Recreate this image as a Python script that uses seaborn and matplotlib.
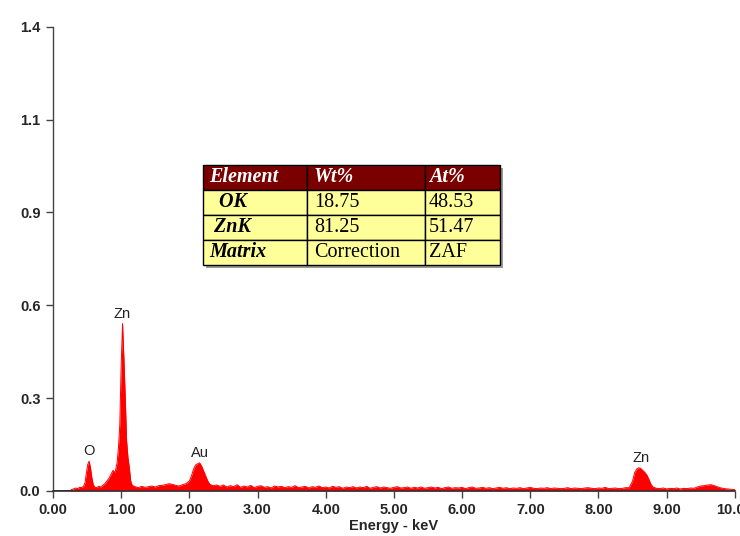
import numpy as np
import pandas as pd
import matplotlib.pyplot as plt
import seaborn as sns

# --- spectrum (energy keV, intensity) ---
low_energy = [0.00, 0.25, 0.27, 0.30, 0.33, 0.36, 0.39, 0.42, 0.45, 0.47, 0.49, 0.51, 0.53,
              0.55, 0.57, 0.59, 0.61, 0.64, 0.67, 0.70, 0.73, 0.76, 0.79, 0.82, 0.85, 0.88,
              0.91, 0.94, 0.96, 0.98, 1.00, 1.02, 1.04, 1.06, 1.08, 1.10, 1.12, 1.14, 1.16,
              1.19, 1.22, 1.25, 1.30, 1.35, 1.40, 1.45, 1.50, 1.55, 1.60, 1.65, 1.70, 1.75,
              1.80, 1.85, 1.90, 1.95, 2.00, 2.03, 2.06, 2.09, 2.12, 2.15, 2.18, 2.21, 2.24,
              2.27, 2.30, 2.35, 2.40]
low_counts = [0.000, 0.000, 0.004, 0.006, 0.009, 0.007, 0.011, 0.010, 0.015, 0.025, 0.055, 0.080, 0.090,
              0.070, 0.040, 0.020, 0.012, 0.010, 0.014, 0.012, 0.017, 0.022, 0.030, 0.038, 0.050, 0.062,
              0.055, 0.085, 0.130, 0.200, 0.380, 0.505, 0.400, 0.280, 0.150, 0.100, 0.070, 0.030, 0.018,
              0.014, 0.012, 0.010, 0.014, 0.011, 0.013, 0.015, 0.012, 0.016, 0.017, 0.019, 0.022, 0.020,
              0.017, 0.015, 0.019, 0.022, 0.030, 0.045, 0.065, 0.078, 0.082, 0.085, 0.075, 0.060, 0.045,
              0.030, 0.020, 0.016, 0.018]

# background 2.45 .. 8.40 keV, 0.05 keV channels
bg_counts = [0.014, 0.018, 0.012, 0.016, 0.013, 0.019, 0.011, 0.015, 0.012, 0.017,
             0.010, 0.014, 0.016, 0.011, 0.013, 0.009, 0.015, 0.012, 0.014, 0.010,
             0.013, 0.011, 0.016, 0.010, 0.012, 0.014, 0.009, 0.013, 0.011, 0.015,
             0.010, 0.012, 0.009, 0.014, 0.011, 0.013, 0.008, 0.012, 0.010, 0.013,
             0.009, 0.012, 0.010, 0.014, 0.008, 0.011, 0.013, 0.009, 0.012, 0.010,
             0.008, 0.011, 0.013, 0.009, 0.010, 0.012, 0.008, 0.011, 0.009, 0.012,
             0.008, 0.010, 0.012, 0.009, 0.011, 0.007, 0.010, 0.012, 0.008, 0.010,
             0.009, 0.011, 0.007, 0.010, 0.012, 0.008, 0.009, 0.011, 0.008, 0.010,
             0.007, 0.009, 0.011, 0.008, 0.010, 0.007, 0.009, 0.008, 0.010, 0.007,
             0.009, 0.011, 0.008, 0.007, 0.009, 0.008, 0.010, 0.007, 0.009, 0.008,
             0.007, 0.008, 0.010, 0.007, 0.009, 0.008, 0.007, 0.009, 0.010, 0.008,
             0.007, 0.009, 0.008, 0.011, 0.007, 0.008, 0.009, 0.007, 0.008, 0.010]
bg_energy = np.round(2.45 + 0.05 * np.arange(len(bg_counts)), 2)

high_energy = [8.45, 8.50, 8.53, 8.56, 8.59, 8.62, 8.65, 8.68, 8.71, 8.74, 8.77, 8.80, 8.85,
               8.90, 8.95, 9.00, 9.05, 9.10, 9.15, 9.20, 9.25, 9.30, 9.35, 9.40, 9.45, 9.50,
               9.55, 9.60, 9.65, 9.70, 9.75, 9.80, 9.85, 9.90, 9.95, 10.00]
high_counts = [0.010, 0.030, 0.055, 0.066, 0.070, 0.068, 0.062, 0.056, 0.048, 0.035, 0.020, 0.012, 0.008,
               0.007, 0.009, 0.006, 0.008, 0.007, 0.009, 0.006, 0.008, 0.007, 0.009, 0.008, 0.012, 0.015,
               0.016, 0.018, 0.019, 0.016, 0.012, 0.009, 0.007, 0.006, 0.005, 0.004]

# peak labels
peak_names = ["O", "Zn", "Au", "Zn"]
peak_pos = [0.53, 1.02, 2.15, 8.62]
peak_top = [0.090, 0.505, 0.085, 0.070]

# quantification table
table_cols = ["Element", "Wt%", "At%"]
table_rows = [["  OK", "18.75", "48.53"],
              [" ZnK", "81.25", "51.47"],
              ["Matrix", "Correction", "ZAF"]]

y_ticks = [0.0, 0.28, 0.56, 0.84, 1.12, 1.4]
y_labels = ["0.0", "0.3", "0.6", "0.9", "1.1", "1.4"]
x_ticks = [0, 1, 2, 3, 4, 5, 6, 7, 8, 9, 10]

spec = pd.DataFrame({
    "energy": np.concatenate([low_energy, bg_energy, high_energy]),
    "counts": np.concatenate([low_counts, bg_counts, high_counts]),
})

sns.set_style("ticks")
plt.rcParams["font.family"] = ["Liberation Sans", "DejaVu Sans"]

fig = plt.figure(figsize=(7.4, 5.36), dpi=100)
ax = fig.add_axes([0.0716, 0.084, 0.9214, 0.866])

ax.fill_between(spec["energy"], spec["counts"], color="#ff0000", lw=0)
sns.lineplot(data=spec, x="energy", y="counts", color="#ff0000", lw=0.7, ax=ax)
ax.plot([0, 0.27], [0, 0], color="black", lw=2)

for name, x, y in zip(peak_names, peak_pos, peak_top):
    ax.text(x, y + 0.008, name, ha="center", va="bottom", fontsize=10.5, color="#222222")

ax.set_xlim(0, 10)
ax.set_ylim(0, 1.4)
ax.set_xticks(x_ticks)
ax.set_xticklabels([f"{v:.2f}" for v in x_ticks], fontweight="bold", fontsize=10.5)
ax.set_yticks(y_ticks)
ax.set_yticklabels(y_labels, fontweight="bold", fontsize=10.5)
ax.set_xlabel("Energy - keV", fontweight="bold", fontsize=10.5, labelpad=1)
ax.set_ylabel("")
ax.tick_params(axis="both", length=5, width=1, color="#444444", pad=4)
sns.despine(ax=ax, top=True, right=True)
ax.spines["left"].set_color("#444444")
ax.spines["bottom"].set_color("#333333")
ax.spines["left"].set_linewidth(1)
ax.spines["bottom"].set_linewidth(1.2)

# table with shadow
ax.add_patch(plt.Rectangle((0.225, 0.480), 0.435, 0.216, transform=ax.transAxes,
                           facecolor="#555555", edgecolor="none", alpha=0.6, zorder=4))
tbl = ax.table(cellText=table_rows, colLabels=table_cols,
               colWidths=[0.35, 0.397, 0.253], cellLoc="left", colLoc="left",
               bbox=[0.22, 0.487, 0.435, 0.216], zorder=5)
tbl.auto_set_font_size(False)
for (r, c), cell in tbl.get_celld().items():
    cell.set_edgecolor("black")
    cell.set_linewidth(1)
    cell.PAD = 0.06
    txt = cell.get_text()
    txt.set_fontfamily(["Liberation Serif", "DejaVu Serif"])
    txt.set_fontsize(14.5)
    if r == 0:
        cell.set_facecolor("#7a0000")
        txt.set_color("white")
        txt.set_fontweight("bold")
        txt.set_fontstyle("italic")
    else:
        cell.set_facecolor("#ffff99")
        txt.set_color("black")
        if c == 0:
            txt.set_fontweight("bold")
            txt.set_fontstyle("italic")

fig.savefig("out.png", dpi=100)
